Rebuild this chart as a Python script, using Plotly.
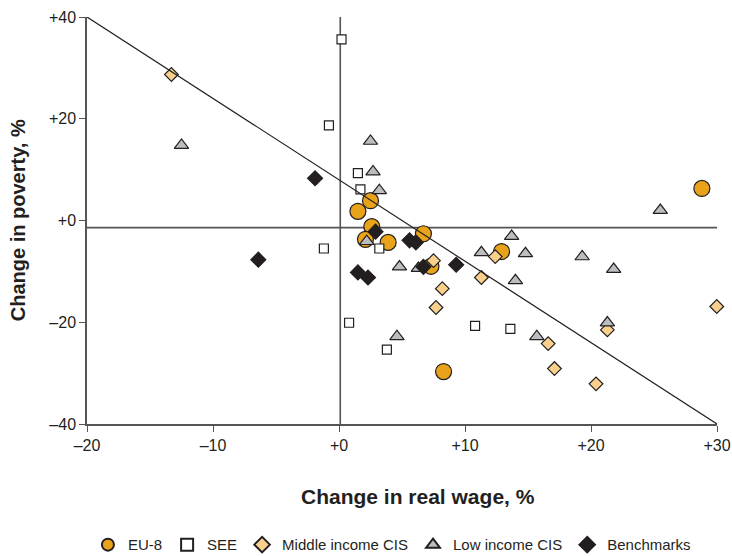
import plotly.graph_objects as go

# Change in real wage (%) vs. change in poverty (%) by country group
eu8_wage = [1.5, 2.5, 2.6, 2.1, 3.9, 6.7, 7.3, 8.3, 12.9, 28.8]
eu8_pov = [1.8, 3.9, -1.2, -3.7, -4.3, -2.6, -9.0, -29.7, -6.1, 6.3]

see_wage = [0.2, -0.8, 1.5, 1.7, -1.2, 3.2, 0.8, 3.8, 10.8, 13.6]
see_pov = [35.6, 18.7, 9.3, 6.1, -5.5, -5.5, -20.1, -25.4, -20.7, -21.3]

mid_cis_wage = [-13.3, 7.5, 8.2, 7.7, 11.3, 12.4, 16.6, 17.1, 20.4, 21.3, 29.98]
mid_cis_pov = [28.7, -7.9, -13.4, -17.1, -11.2, -7.1, -24.2, -29.1, -32.1, -21.5, -16.9]

low_cis_wage = [-12.5, 2.5, 2.7, 3.2, 2.2, 4.8, 6.3, 4.6, 11.3, 13.7, 14.8, 14.0,
                19.3, 21.8, 15.7, 21.3, 25.5]
low_cis_pov = [14.8, 15.6, 9.6, 5.9, -4.1, -9.1, -9.4, -22.8, -6.3, -3.1, -6.5, -11.8,
               -7.1, -9.6, -22.8, -20.1, 2.0]

bench_wage = [-1.9, -6.4, 2.9, 5.6, 6.1, 6.7, 9.3, 1.5, 2.3]
bench_pov = [8.3, -7.7, -2.2, -3.9, -4.3, -9.1, -8.7, -10.2, -11.2]

# Fitted relationship (end points of the regression line over the axis range)
fit_wage = [-20, 30]
fit_pov = [40, -40]

# Reference lines: zero wage change and average poverty change
zero_wage = 0.1
avg_pov_change = -1.4

x_ticks = [-20, -10, 0, 10, 20, 30]
x_ticktext = ["\u201320", "\u201310", "+0", "+10", "+20", "+30"]
y_ticks = [-40, -20, 0, 20, 40]
y_ticktext = ["\u201340", "\u201320", "+0", "+20", "+40"]

FONT = "Liberation Sans, Arial, sans-serif"
INK = "#231f20"
AXIS = "#555555"

fig = go.Figure()

series = [
    ("EU-8", eu8_wage, eu8_pov, "circle", 16, "#e8a31a"),
    ("SEE", see_wage, see_pov, "square", 9, "#ffffff"),
    ("Middle income CIS", mid_cis_wage, mid_cis_pov, "diamond", 10.5, "#f8d08c"),
    ("Low income CIS", low_cis_wage, low_cis_pov, "triangle-up", 12.5, "#bcbdc0"),
    ("Benchmarks", bench_wage, bench_pov, "diamond", 11.5, INK),
]
for name, xs, ys, sym, size, color in series:
    fig.add_trace(go.Scatter(
        x=xs, y=ys, mode="markers", name=name, cliponaxis=False,
        marker=dict(symbol=sym, size=size, color=color,
                    line=dict(color=INK, width=1.2)),
    ))

fig.add_trace(go.Scatter(
    x=fit_wage, y=fit_pov, mode="lines", showlegend=False,
    line=dict(color=INK, width=1.2), hoverinfo="skip",
))

fig.add_shape(type="line", xref="x", yref="y", x0=zero_wage, x1=zero_wage,
              y0=-40, y1=40, line=dict(color=AXIS, width=1.6), layer="below")
fig.add_shape(type="line", xref="x", yref="y", x0=-20, x1=30,
              y0=avg_pov_change, y1=avg_pov_change,
              line=dict(color=AXIS, width=1.6), layer="below")

fig.update_layout(
    width=732, height=556,
    margin=dict(l=87, r=15, t=17, b=132, autoexpand=False),
    plot_bgcolor="white", paper_bgcolor="white",
    font=dict(family=FONT, size=16, color=INK),
    showlegend=True,
    legend=dict(orientation="h", x=0.484, xanchor="center",
                y=-0.297, yanchor="middle",
                font=dict(size=15, color=INK), itemsizing="constant",
                itemwidth=30, traceorder="normal", tracegroupgap=0),
    xaxis=dict(range=[-20, 30], tickvals=x_ticks, ticktext=x_ticktext,
               showgrid=False, zeroline=False, showline=True,
               linecolor=AXIS, linewidth=1.5, ticks="outside", ticklen=6,
               tickcolor=AXIS, tickfont=dict(size=16),
               ticklabeloverflow="allow"),
    yaxis=dict(range=[-40, 40], tickvals=y_ticks, ticktext=y_ticktext,
               showgrid=False, zeroline=False, showline=True,
               linecolor=AXIS, linewidth=1.5, ticks="outside", ticklen=6,
               tickcolor=AXIS, tickfont=dict(size=16)),
    annotations=[
        dict(text="<b>Change in real wage, %</b>", xref="paper", yref="paper",
             x=0.525, y=-0.177, xanchor="center", yanchor="middle",
             showarrow=False, font=dict(size=21, color=INK)),
        dict(text="<b>Change in poverty, %</b>", xref="paper", yref="paper",
             x=-0.11, y=0.5, xanchor="center", yanchor="middle", textangle=-90,
             showarrow=False, font=dict(size=20, color=INK)),
    ],
)

fig.write_html("out.html")
